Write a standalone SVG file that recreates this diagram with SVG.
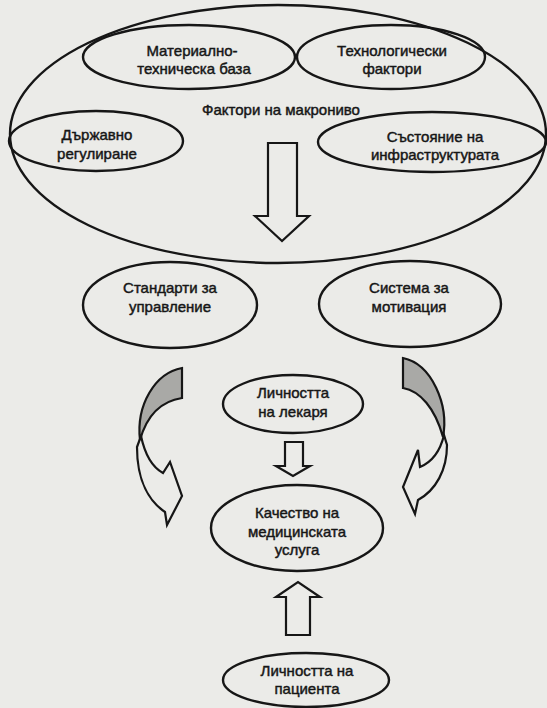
<svg xmlns="http://www.w3.org/2000/svg" width="547" height="708" viewBox="0 0 547 708">
<defs>
<style>
.bg{fill:#ebebe8}
.n{fill:none;stroke:#161616;stroke-width:2.4}
.a{fill:#ebebe8;stroke:#161616;stroke-width:2.2;stroke-linejoin:miter}
.sh{fill:#a9a9a6;stroke:#161616;stroke-width:2.2}
text{font-family:"Liberation Sans",Arial,sans-serif;font-size:15px;fill:#161616;text-anchor:middle;stroke:#161616;stroke-width:0.45}
</style>
</defs>
<rect class="bg" x="0" y="0" width="547" height="708"/>
<g id="macro">
<ellipse class="n" cx="278" cy="134" rx="268" ry="129"/>
<text x="281" y="115">Фактори на макрониво</text>
</g>
<g id="material">
<ellipse class="n" cx="189" cy="57" rx="106" ry="32"/>
<text x="192" y="56">Материално-</text>
<text x="194" y="74">техническа база</text>
</g>
<g id="tech">
<ellipse class="n" cx="391" cy="57" rx="94" ry="32"/>
<text x="392" y="56">Технологически</text>
<text x="392" y="74">фактори</text>
</g>
<g id="state">
<ellipse class="n" cx="96" cy="141" rx="87" ry="30"/>
<text x="97" y="140">Държавно</text>
<text x="97" y="159">регулиране</text>
</g>
<g id="infra">
<ellipse class="n" cx="432" cy="142" rx="114" ry="30"/>
<text x="435" y="142">Състояние на</text>
<text x="435" y="160">инфраструктурата</text>
</g>
<g id="standards">
<ellipse class="n" cx="170" cy="305" rx="87" ry="43"/>
<text x="170" y="293">Стандарти за</text>
<text x="170" y="312">управление</text>
</g>
<g id="motivation">
<ellipse class="n" cx="410" cy="304" rx="91" ry="43"/>
<text x="409" y="293">Система за</text>
<text x="409" y="312">мотивация</text>
</g>
<g id="doctor">
<ellipse class="n" cx="293" cy="404" rx="70" ry="29"/>
<text x="293" y="398">Личността</text>
<text x="293" y="417">на лекаря</text>
</g>
<g id="quality">
<ellipse class="n" cx="297" cy="528" rx="86" ry="43"/>
<text x="297" y="518">Качество на</text>
<text x="297" y="537">медицинската</text>
<text x="297" y="555">услуга</text>
</g>
<g id="patient">
<ellipse class="n" cx="306" cy="680" rx="83" ry="27"/>
<text x="307" y="676">Личността на</text>
<text x="307" y="694">пациента</text>
</g>
<g id="connectors">
<polygon class="a" points="268,143 297,143 297,216 309,216 282,241 255,216 268,216"/>
<polygon class="a" points="285,442 303,442 303,466 310,466 293,476 276,466 285,466"/>
<polygon class="a" points="286,635 310,635 310,597 320,597 298,582 276,597 286,597"/>
<path class="a" d="M141,436 C145,455 152,467 163,473 L170,462 L182,496 L167,525 L165,512 C150,502 137,482 137,447 Z"/>
<path class="sh" d="M182,368 L182,398 C162,401 147,415 140,440 C136,405 155,373 182,368 Z"/>
<path class="a" d="M444,435 C440,452 432,462 420,467 L418,450 L403,487 L415,514 L418,500 C436,490 447,470 447,445 Z"/>
<path class="sh" d="M403,358 L403,388 C420,391 435,408 443,437 C449,405 432,364 403,358 Z"/>
</g>
</svg>
